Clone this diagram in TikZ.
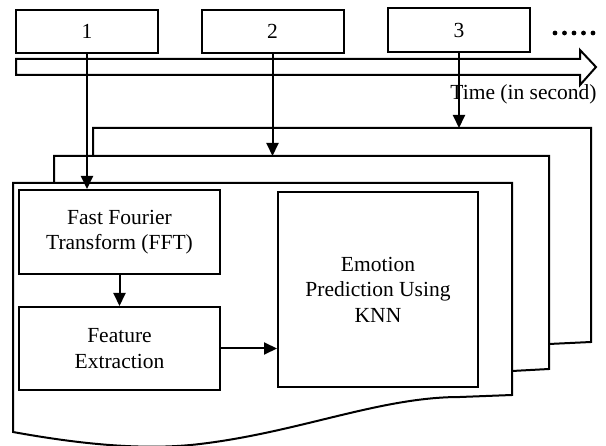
\documentclass[tikz,border=0pt]{standalone}
\usepackage{fontspec}
\setmainfont{Liberation Serif}
\usetikzlibrary{arrows.meta,positioning,calc}

\begin{document}
\begin{tikzpicture}[
    % GLOBAL CFG
    x=1pt, y=-1pt,
    font=\fontsize{21.5}{25.5}\selectfont,
    >={Triangle[length=13pt,width=12pt]},
    line width=2pt,
    % Styles
    slot/.style={% For the time windows on top
        rectangle,
        draw,
        minimum width=142pt,
        minimum height=43pt,
        inner sep=0pt,
        },
    block/.style={% For the processing steps
        rectangle,
        draw,
        align=center,
        minimum width=201pt,
        minimum height=84pt,
        inner sep=2pt,
        },
    page/.style={% For the stacked pages
        draw,
        line join=miter,
        },
    ArrowC1/.style={% Straight arrows
        ->,
        line width=2pt,
        },
    ]
    \useasboundingbox (0,0) rectangle (606,446);

    % Time axis (block arrow) and dots
    \draw [page, fill=white] (16,59) -- (580,59) -- (580,50) -- (596,67)
        -- (580,85) -- (580,75) -- (16,75) -- cycle;
    \foreach \i in {0,...,4}
        \fill (555+9.5*\i,33) circle[radius=2.4pt];
    \node [anchor=base] (tlabel) at (523.5,100) {Time (in second)};

    % Time windows named w#
    \node [slot] (w1) at (87,31.5) {1};
    \node [slot] (w2) at (272.5,31.5) {2};
    \node [slot, minimum height=44pt] (w3) at (459,30) {3};

    % Stacked pages, back to front
    \coordinate (p3top) at (93,128);
    \coordinate (p2top) at (54,156);
    \draw [page] (93,156) -- (p3top) -- (591,128) -- (591,342) -- (549,344);
    \draw [page] (54,183) -- (p2top) -- (549,156) -- (549,369) -- (512,371);
    \draw [page, fill=white] (13,183) -- (512,183) -- (512,395) -- (460,397)
        .. controls (380,397) and (300,432) .. (200,444)
        .. controls (150,450) and (90,446) .. (13,432) -- cycle;

    % Steps on the front page
    \node [block] (fft) at (119.5,232) {Fast Fourier\\Transform (FFT)};
    \node [block, minimum height=83pt] (fe) at (119.5,348.5) {Feature\\Extraction};
    \node [block, minimum width=200pt, minimum height=195pt] (knn) at (378,289.5)
        {Emotion\\Prediction Using\\KNN};

    % Arrows
    \draw [ArrowC1] (w1.south) -- (w1.south |- fft.north); % window 1 to FFT
    \draw [ArrowC1] (w2.south) -- (w2.south |- p2top); % window 2 to page 2
    \draw [ArrowC1] (w3.south) -- (w3.south |- p3top); % window 3 to page 3
    \draw [ArrowC1] (fft) -- (fe);
    \draw [ArrowC1] (fe.east) -- (fe.east -| knn.west);
\end{tikzpicture}
\end{document}
